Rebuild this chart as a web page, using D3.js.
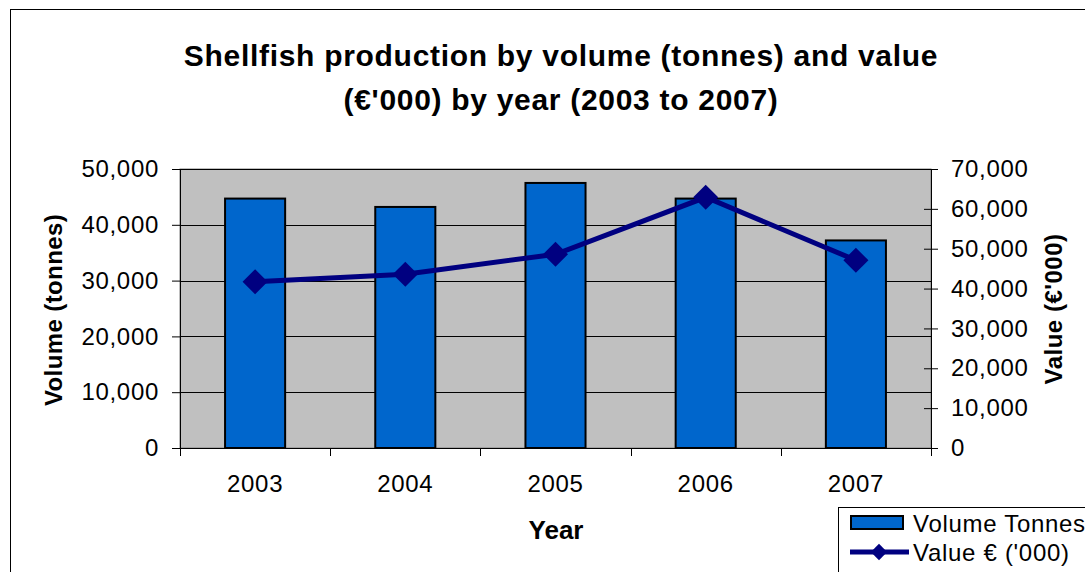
<!DOCTYPE html>
<html>
<head>
<meta charset="utf-8">
<script src="https://cdn.jsdelivr.net/npm/d3@7"></script>
<style>
  body { margin: 0; background: #fff; }
  svg { display: block; font-family: "Liberation Sans", Arial, sans-serif; }
</style>
</head>
<body>
<div id="chart"></div>
<script>
// data
var years = ["2003", "2004", "2005", "2006", "2007"];
var volumeTonnes = [44700, 43200, 47500, 44700, 37200];
var valueThousands = [41700, 43600, 48600, 62900, 47100];
var leftTicks = [0, 10000, 20000, 30000, 40000, 50000];
var rightTicks = [0, 10000, 20000, 30000, 40000, 50000, 60000, 70000];

var W = 1085, H = 572;
var plot = {left: 180, right: 931, top: 169, bottom: 448};

var svg = d3.select("#chart").append("svg")
    .attr("width", W)
    .attr("height", H);

// outer chart frame
svg.append("rect")
    .attr("x", 10.5).attr("y", 9.5)
    .attr("width", W + 20).attr("height", H + 20)
    .attr("fill", "#fff")
    .attr("stroke", "#000")
    .attr("stroke-width", 1);

// title
svg.append("text")
    .attr("x", 561).attr("y", 66)
    .attr("text-anchor", "middle")
    .style("font-size", "30px").style("font-weight", "bold")
    .style("letter-spacing", "0.7px")
    .text("Shellfish production by volume (tonnes) and value");
svg.append("text")
    .attr("x", 561).attr("y", 110)
    .attr("text-anchor", "middle")
    .style("font-size", "30px").style("font-weight", "bold")
    .style("letter-spacing", "0.7px")
    .text("(\u20AC'000) by year (2003 to 2007)");

var x = d3.scaleBand().domain(years).range([plot.left, plot.right]).paddingInner(0).paddingOuter(0);
var yL = d3.scaleLinear().domain([0, 50000]).range([plot.bottom, plot.top]);
var yR = d3.scaleLinear().domain([0, 70000]).range([plot.bottom, plot.top]);
var fmt = d3.format(",");

// plot background
svg.append("rect")
    .attr("x", plot.left).attr("y", plot.top)
    .attr("width", plot.right - plot.left).attr("height", plot.bottom - plot.top)
    .attr("fill", "#c0c0c0")
    .attr("stroke", "#808080");

// gridlines
svg.selectAll(".grid")
    .data(leftTicks.slice(1))
    .enter().append("line")
    .attr("x1", plot.left).attr("x2", plot.right)
    .attr("y1", function(d){ return Math.round(yL(d)) + 0.5; })
    .attr("y2", function(d){ return Math.round(yL(d)) + 0.5; })
    .attr("stroke", "#000").attr("stroke-width", 1);

// left axis
var leftAxis = svg.append("g")
    .attr("transform", "translate(" + plot.left + ",0)")
    .call(d3.axisLeft(yL).tickValues(leftTicks).tickFormat(fmt).tickSize(8).tickPadding(13));
// right axis, ticks cross the axis line
var rightAxis = svg.append("g")
    .attr("transform", "translate(" + plot.right + ",0)")
    .call(d3.axisRight(yR).tickValues(rightTicks).tickFormat(fmt).tickSize(7).tickPadding(13));
rightAxis.selectAll(".tick line").attr("x1", -7);
// bottom axis
var bottomAxis = svg.append("g")
    .attr("transform", "translate(0," + plot.bottom + ")")
    .call(d3.axisBottom(x).tickSize(0).tickPadding(27));

[leftAxis, rightAxis, bottomAxis].forEach(function(g){
    g.selectAll("text").style("font-size", "24px").attr("fill", "#000")
        .style("letter-spacing", "0.7px")
        .style("font-family", "'Liberation Sans', Arial, sans-serif");
    g.selectAll("line").attr("stroke", "#000");
    g.select(".domain").attr("stroke", "#000");
});
leftAxis.select(".domain").attr("d", "M0.5," + (plot.top) + "V" + (plot.bottom + 8));
rightAxis.select(".domain").attr("d", "M0.5," + (plot.top) + "V" + (plot.bottom + 8));
bottomAxis.select(".domain").attr("d", "M" + plot.left + ",0.5H" + plot.right);

// category separators
svg.selectAll(".cattick")
    .data(years.slice(1))
    .enter().append("line")
    .attr("x1", function(d){ return Math.round(x(d)) + 0.5; })
    .attr("x2", function(d){ return Math.round(x(d)) + 0.5; })
    .attr("y1", plot.bottom).attr("y2", plot.bottom + 8)
    .attr("stroke", "#000");

// bars
var barW = x.bandwidth() * 0.4;
svg.selectAll(".bar")
    .data(volumeTonnes)
    .enter().append("rect")
    .attr("x", function(d, i){ return x(years[i]) + (x.bandwidth() - barW) / 2; })
    .attr("y", function(d){ return yL(d); })
    .attr("width", barW)
    .attr("height", function(d){ return plot.bottom - yL(d); })
    .attr("fill", "#0066cc")
    .attr("stroke", "#000").attr("stroke-width", 2);

// value line
var line = d3.line()
    .x(function(d, i){ return x(years[i]) + x.bandwidth() / 2; })
    .y(function(d){ return yR(d); });
svg.append("path")
    .datum(valueThousands)
    .attr("d", line)
    .attr("fill", "none")
    .attr("stroke", "#000080")
    .attr("stroke-width", 5);

var diamond = d3.symbol().type(d3.symbolDiamond2).size(400);
svg.selectAll(".pt")
    .data(valueThousands)
    .enter().append("path")
    .attr("d", diamond)
    .attr("transform", function(d, i){ return "translate(" + (x(years[i]) + x.bandwidth() / 2) + "," + yR(d) + ")"; })
    .attr("fill", "#000080");

// axis titles
svg.append("text")
    .attr("transform", "translate(62,310) rotate(-90)")
    .attr("text-anchor", "middle")
    .style("font-size", "24px").style("font-weight", "bold")
    .style("letter-spacing", "0.4px")
    .text("Volume (tonnes)");
svg.append("text")
    .attr("transform", "translate(1062,309) rotate(-90)")
    .attr("text-anchor", "middle")
    .style("font-size", "24px").style("font-weight", "bold")
    .style("letter-spacing", "0.5px")
    .text("Value (\u20AC'000)");
svg.append("text")
    .attr("x", 556).attr("y", 539)
    .attr("text-anchor", "middle")
    .style("font-size", "26px").style("font-weight", "bold")
    .text("Year");

// legend
var legend = svg.append("g");
legend.append("rect")
    .attr("x", 838.5).attr("y", 507.5)
    .attr("width", 300).attr("height", 100)
    .attr("fill", "#fff").attr("stroke", "#000");
legend.append("rect")
    .attr("x", 851).attr("y", 516)
    .attr("width", 52).attr("height", 13)
    .attr("fill", "#0066cc").attr("stroke", "#000").attr("stroke-width", 2);
legend.append("text")
    .attr("x", 913).attr("y", 532)
    .style("font-size", "24px")
    .style("letter-spacing", "0.7px")
    .text("Volume Tonnes");
legend.append("line")
    .attr("x1", 850).attr("x2", 909)
    .attr("y1", 552).attr("y2", 552)
    .attr("stroke", "#000080").attr("stroke-width", 5);
legend.append("path")
    .attr("d", d3.symbol().type(d3.symbolDiamond2).size(170))
    .attr("transform", "translate(879,552)")
    .attr("fill", "#000080");
legend.append("text")
    .attr("x", 913).attr("y", 561)
    .style("font-size", "24px")
    .style("letter-spacing", "0.7px")
    .text("Value \u20AC ('000)");
</script>
</body>
</html>
